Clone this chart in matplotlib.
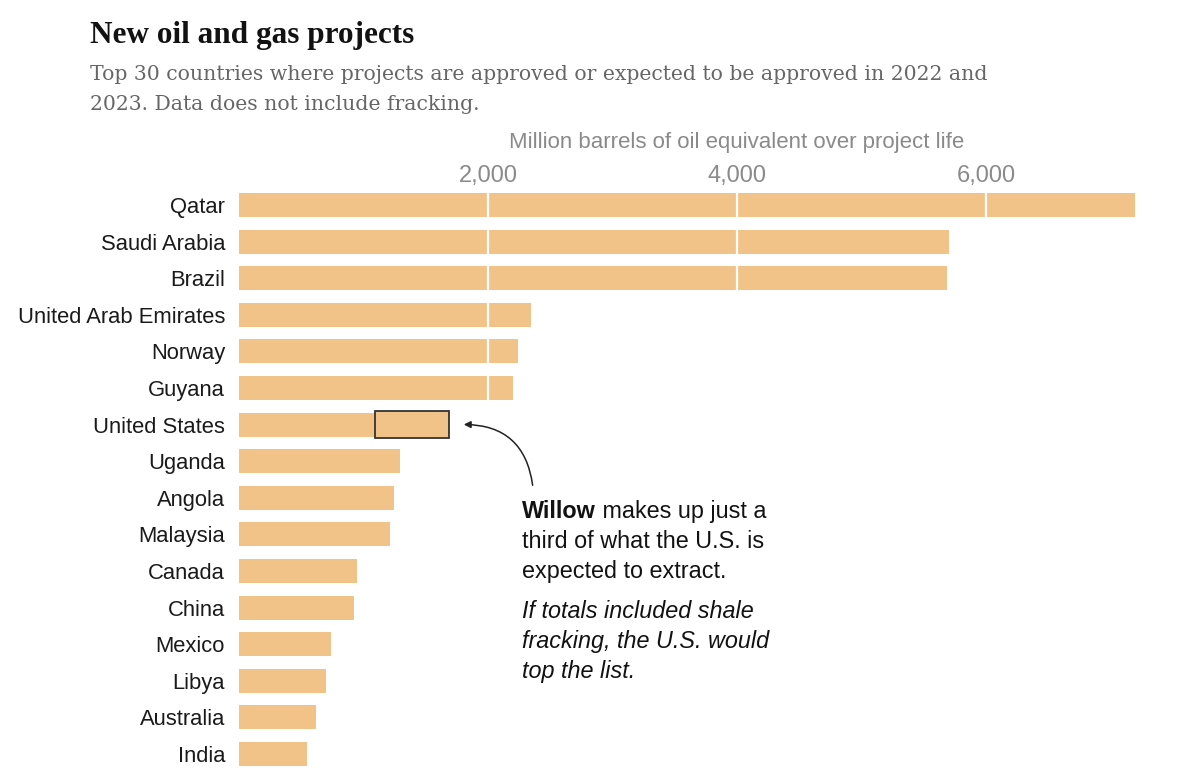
import numpy as np
import matplotlib
matplotlib.use("Agg")
import matplotlib.pyplot as plt

countries = ['Qatar', 'Saudi Arabia', 'Brazil', 'United Arab Emirates', 'Norway', 'Guyana',
             'United States', 'Uganda', 'Angola', 'Malaysia', 'Canada', 'China', 'Mexico',
             'Libya', 'Australia', 'India']
volumes = [7200, 5700, 5690, 2345, 2240, 2200, 1690, 1295, 1245, 1215, 950, 922, 740, 697, 617, 545]
willow = 595
ticks = [2000, 4000, 6000]
tick_labels = ['2,000', '4,000', '6,000']

bar_color = '#f2c389'
W, H = 1200, 776

fig = plt.figure(figsize=(12, 7.76), dpi=100)
ax = fig.add_axes([239 / W, 1 - 772.3 / H, (1135.4 - 239) / W, (772.3 - 186.7) / H])

y = np.arange(len(countries))
ax.barh(y, volumes, height=0.656, color=bar_color, zorder=1)

# Willow slice of the U.S. bar
us = countries.index('United States')
ax.barh(us, willow, left=volumes[us] - willow, height=0.72, color=bar_color,
        edgecolor='#333333', linewidth=1.3, zorder=3)

for t in ticks:
    ax.axvline(t, color='white', lw=1.6, zorder=2)

ax.set_xlim(0, 7200)
ax.set_ylim(len(countries) - 0.5, -0.5)
ax.xaxis.tick_top()
ax.set_xticks(ticks)
ax.set_xticklabels(tick_labels, fontfamily='Liberation Sans', fontsize=17, color='#8a8a8a')
ax.tick_params(axis='x', length=0, pad=0)
ax.set_yticks(y)
ax.set_yticklabels(countries, fontfamily='Liberation Sans', fontsize=15.8, color='#1a1a1a')
ax.tick_params(axis='y', length=0, pad=10)
for s in ax.spines.values():
    s.set_visible(False)

ax.text(4000, -1.55, 'Million barrels of oil equivalent over project life', ha='center', va='baseline',
        fontfamily='Liberation Sans', fontsize=16, color='#8a8a8a', transform=ax.transData)

fig.text(90 / W, 1 - 43 / H, 'New oil and gas projects', fontfamily='Liberation Serif',
         fontweight='bold', fontsize=22.5, color='#121212', va='baseline')
fig.text(90 / W, 1 - 80 / H, 'Top 30 countries where projects are approved or expected to be approved in 2022 and',
         fontfamily='DejaVu Serif', fontsize=14.7, color='#666666', va='baseline')
fig.text(90 / W, 1 - 110 / H, '2023. Data does not include fracking.',
         fontfamily='DejaVu Serif', fontsize=14.7, color='#666666', va='baseline')

# annotation
ax.annotate('', xy=(461 / W, 1 - 424.5 / H), xytext=(533 / W, 1 - 488 / H),
            xycoords='figure fraction', textcoords='figure fraction',
            arrowprops=dict(arrowstyle='-|>', color='#222222', lw=1.1,
                            mutation_scale=10, connectionstyle='arc3,rad=0.45'))

fs = 16.8
tx = 522 / W
t1 = fig.text(tx, 1 - 518 / H, 'Willow', fontfamily='Liberation Sans', fontweight='bold',
              fontsize=fs, color='#121212', va='baseline')
fig.canvas.draw()
bb = t1.get_window_extent(renderer=fig.canvas.get_renderer())
fig.text(bb.x1 / W, 1 - 518 / H, ' makes up just a', fontfamily='Liberation Sans',
         fontsize=fs, color='#121212', va='baseline')
fig.text(tx, 1 - 548 / H, 'third of what the U.S. is', fontfamily='Liberation Sans',
         fontsize=fs, color='#121212', va='baseline')
fig.text(tx, 1 - 578 / H, 'expected to extract.', fontfamily='Liberation Sans',
         fontsize=fs, color='#121212', va='baseline')
for i, line in enumerate(['If totals included shale', 'fracking, the U.S. would', 'top the list.']):
    fig.text(tx, 1 - (618 + 30 * i) / H, line, fontfamily='Liberation Sans', style='italic',
             fontsize=fs, color='#121212', va='baseline')

fig.savefig('out.png', dpi=100, facecolor='white')
